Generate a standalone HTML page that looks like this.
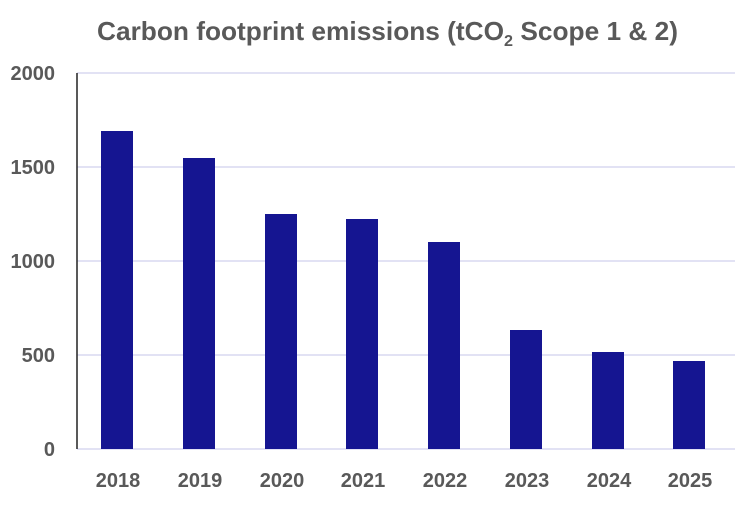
<!DOCTYPE html>
<html><head><style>
body{margin:0;background:#fff;}
svg text{font-family:"Liberation Sans",Arial,sans-serif;font-weight:bold;fill:#595959;}
</style></head><body>
<svg width="743" height="500" xmlns="http://www.w3.org/2000/svg">
<text x="97" y="40" font-size="26" textLength="581" lengthAdjust="spacingAndGlyphs">Carbon footprint emissions (tCO<tspan font-size="16" dy="6">2</tspan><tspan dy="-6"> Scope 1 &amp; 2)</tspan></text>
<g stroke="#d9d9f0" stroke-width="1.5">
<line x1="77" y1="73" x2="735" y2="73"/>
<line x1="77" y1="167" x2="735" y2="167"/>
<line x1="77" y1="261" x2="735" y2="261"/>
<line x1="77" y1="355" x2="735" y2="355"/>
<line x1="77" y1="449" x2="735" y2="449"/>
</g>
<line x1="77" y1="73" x2="77" y2="449" stroke="#222" stroke-width="1.5"/>
<g font-size="20" text-anchor="end">
<text x="55" y="80">2000</text>
<text x="55" y="174">1500</text>
<text x="55" y="268">1000</text>
<text x="55" y="362">500</text>
<text x="55" y="456">0</text>
</g>
<g fill="#151591">
<rect x="101" y="131" width="32" height="318"/>
<rect x="183" y="158" width="32" height="291"/>
<rect x="265" y="214" width="32" height="235"/>
<rect x="346" y="219" width="32" height="230"/>
<rect x="428" y="242" width="32" height="207"/>
<rect x="510" y="330" width="32" height="119"/>
<rect x="592" y="352" width="32" height="97"/>
<rect x="673" y="361" width="32" height="88"/>
</g>
<g font-size="20" text-anchor="middle">
<text x="118" y="487">2018</text>
<text x="200" y="487">2019</text>
<text x="282" y="487">2020</text>
<text x="363" y="487">2021</text>
<text x="445" y="487">2022</text>
<text x="527" y="487">2023</text>
<text x="609" y="487">2024</text>
<text x="690" y="487">2025</text>
</g>
</svg>
</body></html>
